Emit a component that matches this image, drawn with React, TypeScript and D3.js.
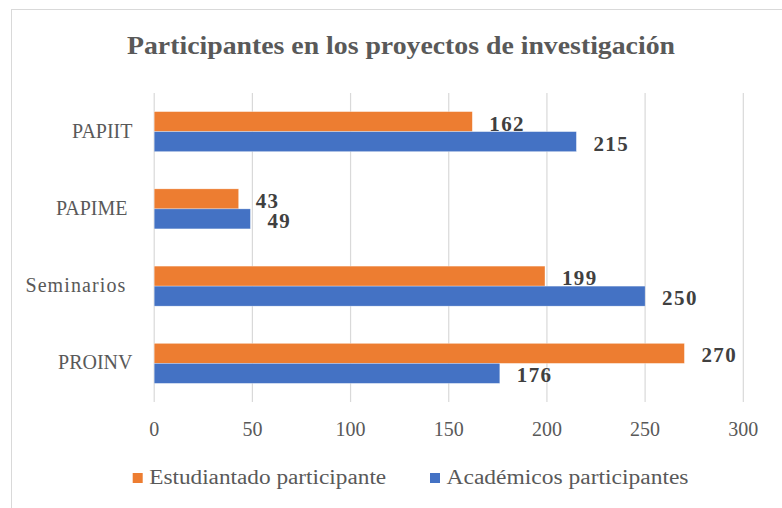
import React from "react";
import * as d3 from "d3";

const categories = ["PAPIIT", "PAPIME ", "Seminarios ", "PROINV"];
const seriesNames = ["Estudiantado participante", "Académicos participantes"];
const estudiantado = [162, 43, 199, 270];
const academicos = [215, 49, 250, 176];
const xTicks = [0, 50, 100, 150, 200, 250, 300];
const colors = ["#ED7D31", "#4472C4"];
const title = "Participantes en los proyectos de investigación";

const W = 782;
const H = 508;
const FONT = "'Liberation Serif', 'Times New Roman', serif";

export default function App() {
  const x = d3.scaleLinear().domain([0, 300]).range([154.2, 743.3]);
  const y = d3
    .scaleBand<string>()
    .domain(categories)
    .range([93, 402])
    .paddingInner(0.482)
    .paddingOuter(0.241);
  const sub = d3.scaleBand<number>().domain([0, 1]).range([0, y.bandwidth()]);
  const series = [estudiantado, academicos];
  const legendX = [132.7, 430];
  const legendLen = [237, 242];

  return (
    <svg
      width={W}
      height={H}
      style={{ position: "absolute", left: 0, top: 0, background: "#fff" }}
      fontFamily={FONT}
    >
      <rect x={11.5} y={9.5} width={820} height={540} fill="#fff" stroke="#D9D9D9" strokeWidth={1} />
      <text
        x={401}
        y={54}
        textAnchor="middle"
        fontSize={25}
        fontWeight="bold"
        fill="#595959"
        textLength={548}
        lengthAdjust="spacingAndGlyphs"
      >
        {title}
      </text>
      {xTicks.map((t) => (
        <g key={t}>
          <line x1={x(t)} x2={x(t)} y1={93} y2={402} stroke="#D9D9D9" strokeWidth={1.2} />
          <text x={x(t)} y={436} textAnchor="middle" fontSize={20} fill="#595959">
            {t}
          </text>
        </g>
      ))}
      {categories.map((c) => (
        <text
          key={c}
          x={132.5}
          y={(y(c) as number) + y.bandwidth() / 2 + 6}
          textAnchor="end"
          fontSize={20}
          fill="#595959"
          letterSpacing={/[a-z]/.test(c) ? 1.1 : 0}
          style={{ whiteSpace: "pre" }}
        >
          {c}
        </text>
      ))}
      {series.map((vals, si) =>
        vals.map((v, i) => {
          const c = categories[i];
          const by = (y(c) as number) + (sub(si) as number);
          const bh = sub.bandwidth();
          return (
            <g key={`${si}-${i}`}>
              <rect
                x={x(0)}
                y={by}
                width={x(v) - x(0)}
                height={bh}
                fill={colors[si]}
                stroke="#fff"
                strokeOpacity={0.5}
                strokeWidth={0.6}
              />
              <text
                x={x(v) + 17}
                y={by + bh / 2 + 9}
                fontSize={21}
                fontWeight="bold"
                fill="#404040"
                letterSpacing={1.4}
              >
                {v}
              </text>
            </g>
          );
        })
      )}
      {[0, 1].map((si) => {
        const lx = legendX[si];
        return (
          <g key={si}>
            <rect x={lx} y={473} width={10} height={10} fill={colors[si]} />
            <text
              x={lx + 16.5}
              y={484}
              fontSize={20}
              fill="#595959"
              textLength={legendLen[si]}
              lengthAdjust="spacingAndGlyphs"
            >
              {seriesNames[si]}
            </text>
          </g>
        );
      })}
    </svg>
  );
}
